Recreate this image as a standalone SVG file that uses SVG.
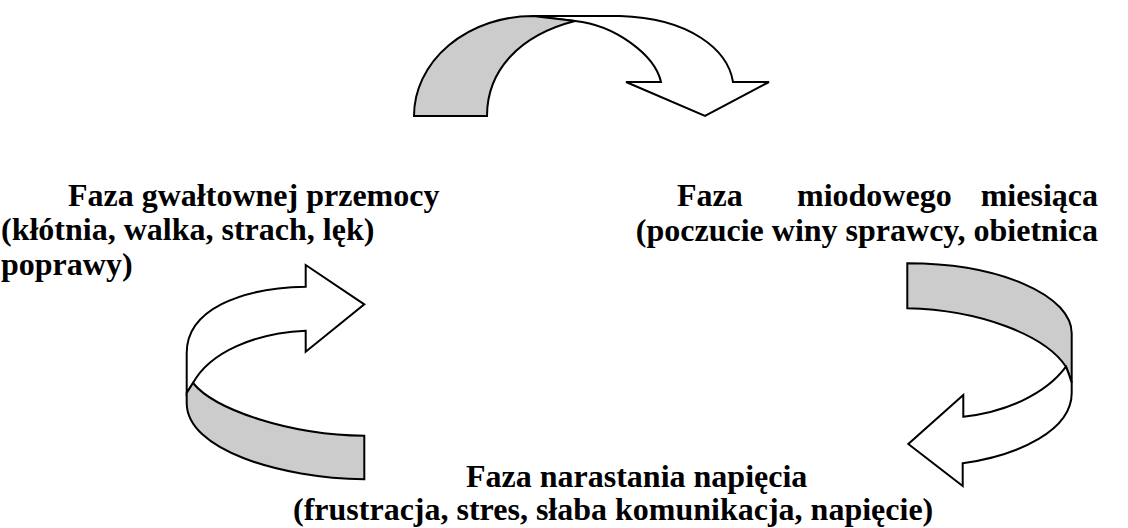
<svg xmlns="http://www.w3.org/2000/svg" width="1128" height="528" viewBox="0 0 1128 528">
<style>
text{font-family:'Liberation Serif', 'Times New Roman', serif;font-weight:700;font-size:32px;fill:#000}
.w{fill:#fff;stroke:#000;stroke-width:2;stroke-linejoin:miter}
.g{fill:#cccccc;stroke:#000;stroke-width:2;stroke-linejoin:miter}
</style>
<rect width="1128" height="528" fill="#fff"/>
<g id="connectors">
<g id="arrow-top">
<path class="w" d="M533,16 L620,16 C690,18 728,50 733,82 L769,82 L705,116 L626,82 L661,82 C655,55 615,25 575,21 L533,16 Z"/>
<path class="g" d="M414,116 A119,100 0 0 1 533,16 L575,21 C520,35 487,70 487,116 Z"/>
</g>
<g id="arrow-right">
<path class="g" d="M907.3,263.3 A164.4,70 0 0 1 1071.7,333.3 L1071.7,383 C1070,377 1068,372 1066,366.7 C1045,335 980,310 907.3,308.3 Z"/>
<path class="w" d="M1071.7,383 L1071.7,393 C1071.7,430 1020,455 962.7,463.3 L962.7,486 L908.3,444 L963.3,395 L963.3,416.7 C1005,412 1045,395 1066,366.7 C1068,372 1070,377 1071.7,383 Z"/>
</g>
<g id="arrow-left">
<path class="w" d="M305.7,265 L364.3,304.3 L305.7,351.7 L305.7,330.7 C255,333 210,352 193,383 L186.7,393 L186.7,353 C186.7,310 240,288 305.7,286.7 Z"/>
<path class="g" d="M193,383 C215,410 290,435 364.3,435.7 L364.3,479.3 C280,478 186.7,450 186.7,403 L186.7,393 Z"/>
</g>
</g>
<g id="node-violence">
<text x="68" y="206">Faza gwałtownej przemocy</text>
<text x="1" y="240">(kłótnia, walka, strach, lęk)</text>
<text x="1" y="275">poprawy)</text>
</g>
<g id="node-honeymoon">
<text x="677" y="206">Faza</text>
<text x="797" y="206">miodowego</text>
<text x="1098" y="206" text-anchor="end">miesiąca</text>
<text x="1098" y="241" text-anchor="end">(poczucie winy sprawcy, obietnica</text>
</g>
<g id="node-tension">
<text x="466" y="487">Faza narastania napięcia</text>
<text x="293" y="520">(frustracja, stres, słaba komunikacja, napięcie)</text>
</g>
</svg>
